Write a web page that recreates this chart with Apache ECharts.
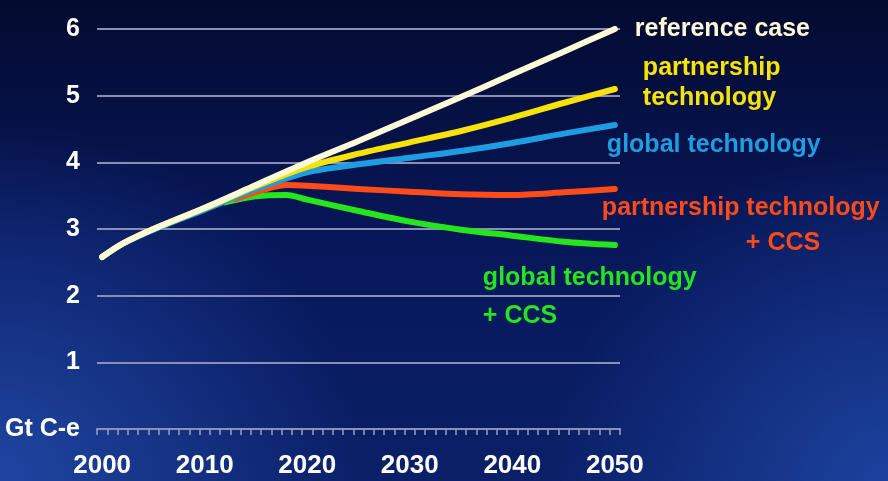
<!DOCTYPE html>
<html>
<head>
<meta charset="utf-8">
<script src="https://cdn.jsdelivr.net/npm/echarts@6/dist/echarts.min.js"></script>
<style>
html,body{margin:0;padding:0;background:#061239;}
#c{width:888px;height:481px;}
</style>
</head>
<body>
<div id="c"></div>
<script>
// ---- data ----
var years = [];
for (var y = 2000; y <= 2050; y++) years.push(String(y));

var yTickLabels = ['Gt C-e', '1', '2', '3', '4', '5', '6'];

var referenceCase = [
  ['2000', 2.58], ['2002', 2.78], ['2005', 3.0], ['2010', 3.32], ['2015', 3.66],
  ['2020', 4.0], ['2025', 4.32], ['2030', 4.65], ['2035', 4.98], ['2040', 5.32],
  ['2045', 5.66], ['2050', 6.0]
];
var partnershipTech = [
  ['2000', 2.58], ['2002', 2.78], ['2005', 3.0], ['2010', 3.31], ['2015', 3.64],
  ['2020', 3.93], ['2025', 4.13], ['2030', 4.3], ['2035', 4.47], ['2040', 4.67],
  ['2045', 4.89], ['2050', 5.1]
];
var globalTech = [
  ['2000', 2.58], ['2002', 2.78], ['2005', 2.99], ['2010', 3.29], ['2015', 3.6],
  ['2020', 3.85], ['2025', 3.97], ['2030', 4.07], ['2035', 4.17], ['2040', 4.29],
  ['2045', 4.43], ['2050', 4.56]
];
var partnershipCCS = [
  ['2013', 3.45], ['2016', 3.6], ['2018', 3.66], ['2020', 3.65], ['2025', 3.6],
  ['2030', 3.56], ['2035', 3.52], ['2040', 3.51], ['2045', 3.55], ['2050', 3.6]
];
var globalCCS = [
  ['2012', 3.4], ['2015', 3.49], ['2018', 3.51], ['2020', 3.44], ['2025', 3.27],
  ['2030', 3.11], ['2035', 2.99], ['2040', 2.9], ['2045', 2.81], ['2050', 2.76]
];

var FONT = '"Liberation Sans", Arial, sans-serif';
var FS = 25;

function lineSeries(name, data, color, z, label) {
  return {
    name: name, type: 'line', data: data, smooth: 0.3, symbol: 'none', z: z,
    lineStyle: { color: color, width: 6, cap: 'round', join: 'round' },
    endLabel: Object.assign({
      show: true, color: color, fontFamily: FONT, fontWeight: 'bold', fontSize: FS,
      align: 'left', verticalAlign: 'middle', distance: 0
    }, label)
  };
}

var chart = echarts.init(document.getElementById('c'));
chart.setOption({
  animation: false,
  backgroundColor: {
    type: 'linear', x: 0, y: 0, x2: 0, y2: 1,
    colorStops: [
      { offset: 0, color: '#040b30' },
      { offset: 0.5, color: '#07175a' },
      { offset: 1, color: '#0b2068' }
    ]
  },
  graphic: [
    { type: 'rect', z: -10, silent: true, shape: { x: 0, y: 0, width: 888, height: 481 },
      style: { fill: { type: 'radial', x: 0, y: 1, r: 0.75,
        colorStops: [{ offset: 0, color: 'rgba(40,85,185,0.7)' }, { offset: 1, color: 'rgba(40,85,185,0)' }] } } },
    { type: 'rect', z: -10, silent: true, shape: { x: 0, y: 0, width: 888, height: 481 },
      style: { fill: { type: 'radial', x: 1, y: 1, r: 0.7,
        colorStops: [{ offset: 0, color: 'rgba(35,80,180,0.7)' }, { offset: 1, color: 'rgba(35,80,180,0)' }] } } }
  ],
  grid: { left: 97, right: 268, top: 29, bottom: 52 },
  xAxis: {
    type: 'category', data: years, boundaryGap: true,
    axisLine: { show: true, lineStyle: { color: '#8a8fb4', width: 2 } },
    axisTick: { show: true, interval: 0, length: 6, lineStyle: { color: '#9a9fc2', width: 1.5 } },
    axisLabel: {
      interval: 9, color: '#ffffff', fontFamily: FONT, fontWeight: 'bold', fontSize: 26, margin: 24
    },
    splitLine: { show: false }
  },
  yAxis: {
    type: 'value', min: 0, max: 6, interval: 1,
    axisLine: { show: false }, axisTick: { show: false },
    axisLabel: {
      color: '#ffffff', fontFamily: FONT, fontWeight: 'bold', fontSize: FS, margin: 17,
      formatter: function (v) { return yTickLabels[v]; }
    },
    splitLine: { lineStyle: { color: '#8a8fb4', width: 2 } }
  },
  series: [
    lineSeries('global technology + CCS', globalCCS, '#25e51c', 2, {
      formatter: 'global technology\n+ CCS', lineHeight: 38, offset: [-132, 52]
    }),
    lineSeries('partnership technology + CCS', partnershipCCS, '#ff4b17', 3, {
      formatter: '{a|partnership technology}\n{b|+ CCS}', offset: [-13, 37],
      rich: {
        a: { color: '#ff4b17', fontFamily: FONT, fontWeight: 'bold', fontSize: FS, lineHeight: 35 },
        b: { color: '#ff4b17', fontFamily: FONT, fontWeight: 'bold', fontSize: FS, lineHeight: 35, padding: [0, 0, 0, 144] }
      }
    }),
    lineSeries('global technology', globalTech, '#1f9de2', 4, {
      formatter: 'global technology', offset: [-8, 20]
    }),
    lineSeries('partnership technology', partnershipTech, '#f7e20a', 5, {
      formatter: 'partnership\ntechnology', lineHeight: 30, offset: [28, -6]
    }),
    lineSeries('reference case', referenceCase, '#fffbd8', 6, {
      formatter: 'reference case', offset: [20, 0]
    })
  ]
});
</script>
</body>
</html>
